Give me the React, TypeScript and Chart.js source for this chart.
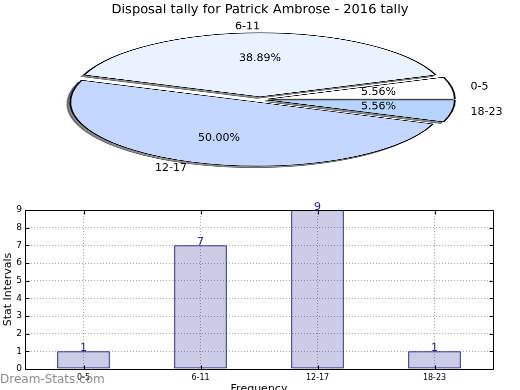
import { useEffect, useRef } from "react";
import { Chart, registerables } from "chart.js";

Chart.register(...registerables);

// ---------- data ----------
const categories = ["0-5", "6-11", "12-17", "18-23"];
const counts = [1, 7, 9, 1];
const pieColors = ["#ffffff", "#eaf2ff", "#c4d8ff", "#b5d5ff"];
const yMax = 9;
const titleText = "Disposal tally for Patrick Ambrose - 2016 tally";
const yAxisTitle = "Stat Intervals";
const xAxisTitle = "Frequency";
const watermarkText = "Dream-Stats.com";

// ---------- style / layout constants ----------
const FONT = "'DejaVu Sans', sans-serif";
const W = 520;
const PIE_H = 582; // unscaled canvas height
const K = 0.342; // vertical squish of the pie (ellipse look)
const PIE_R = 187;
const EXPLODE = 8;

// Chart.js draws clockwise; matplotlib counter-clockwise from east -> reverse
const pieLabels = [...categories].reverse();
const pieValues = [...counts].reverse();
const pieFill = [...pieColors].reverse();

export default function App() {
  const pieRef = useRef<HTMLCanvasElement>(null);
  const barRef = useRef<HTMLCanvasElement>(null);

  useEffect(() => {
    const midOf = (a: any) => (a.startAngle + a.endAngle) / 2;

    const piePlugin = {
      id: "pieCustom",
      beforeDatasetsDraw(chart: any) {
        const ctx = chart.ctx as CanvasRenderingContext2D;
        const meta = chart.getDatasetMeta(0);
        // shadow pass (only shadows are visible)
        ctx.save();
        ctx.translate(-10000, 0);
        ctx.shadowColor = "rgba(0,0,0,0.45)";
        ctx.shadowOffsetX = 10000 - 3;
        ctx.shadowOffsetY = 5;
        ctx.shadowBlur = 0;
        meta.data.forEach((arc: any) => {
          const m = midOf(arc);
          ctx.save();
          ctx.translate(Math.cos(m) * EXPLODE, Math.sin(m) * EXPLODE);
          arc.draw(ctx);
          ctx.restore();
        });
        ctx.restore();
        // real wedges, exploded
        meta.data.forEach((arc: any) => {
          const m = midOf(arc);
          ctx.save();
          ctx.translate(Math.cos(m) * EXPLODE, Math.sin(m) * EXPLODE);
          arc.draw(ctx);
          ctx.restore();
        });
        return false;
      },
      afterDraw(chart: any) {
        const ctx = chart.ctx as CanvasRenderingContext2D;
        const meta = chart.getDatasetMeta(0);
        const data = chart.data.datasets[0].data as number[];
        const total = data.reduce((s, v) => s + v, 0);
        ctx.save();
        ctx.scale(1, 1 / K);
        ctx.fillStyle = "#000";
        // title
        ctx.font = `13px ${FONT}`;
        ctx.textAlign = "center";
        ctx.textBaseline = "middle";
        ctx.fillText(titleText, W / 2, 10);
        ctx.font = `11px ${FONT}`;
        meta.data.forEach((arc: any, i: number) => {
          const m = midOf(arc);
          const R = arc.outerRadius;
          const c = Math.cos(m);
          const s = Math.sin(m);
          // percentage
          const rp = 0.6 * R + EXPLODE;
          ctx.textAlign = "center";
          ctx.fillText(
            ((data[i] / total) * 100).toFixed(2) + "%",
            arc.x + c * rp,
            (arc.y + s * rp) * K
          );
          // label
          const rl = 1.1 * R + EXPLODE;
          ctx.textAlign = c > 1e-6 ? "left" : "right";
          ctx.fillText(
            chart.data.labels[i],
            arc.x + c * rl,
            (arc.y + s * rl) * K
          );
        });
        ctx.restore();
      },
    };

    const pie = new Chart(pieRef.current!, {
      type: "pie",
      data: {
        labels: pieLabels,
        datasets: [
          {
            data: pieValues,
            backgroundColor: pieFill,
            borderColor: "#000",
            borderWidth: 1.8,
          },
        ],
      },
      options: {
        animation: false,
        responsive: false,
        events: [],
        rotation: 90,
        radius: PIE_R,
        layout: { padding: 0 },
        plugins: { legend: { display: false }, tooltip: { enabled: false } },
      } as any,
      plugins: [piePlugin as any],
    });

    const barPlugin = {
      id: "barCustom",
      afterDatasetsDraw(chart: any) {
        const ctx = chart.ctx as CanvasRenderingContext2D;
        const { left, right, top, bottom } = chart.chartArea;
        const L = Math.round(left) + 0.5;
        const R = Math.round(right) + 0.5;
        const T = Math.round(top) + 0.5;
        const B = Math.round(bottom) + 0.5;
        ctx.save();
        ctx.strokeStyle = "#000";
        ctx.lineWidth = 1;
        ctx.beginPath();
        ctx.rect(L, T, R - L, B - T);
        // inward tick marks
        const ys = chart.scales.y;
        ys.ticks.forEach((_t: any, i: number) => {
          const y = Math.round(ys.getPixelForTick(i)) + 0.5;
          ctx.moveTo(L, y);
          ctx.lineTo(L + 4, y);
          ctx.moveTo(R, y);
          ctx.lineTo(R - 4, y);
        });
        const xs = chart.scales.x;
        xs.ticks.forEach((_t: any, i: number) => {
          const x = Math.round(xs.getPixelForTick(i)) + 0.5;
          ctx.moveTo(x, B);
          ctx.lineTo(x, B - 4);
          ctx.moveTo(x, T);
          ctx.lineTo(x, T + 4);
        });
        ctx.stroke();
        ctx.restore();
      },
      afterDraw(chart: any) {
        const ctx = chart.ctx as CanvasRenderingContext2D;
        const meta = chart.getDatasetMeta(0);
        const data = chart.data.datasets[0].data as number[];
        ctx.save();
        ctx.font = `11px ${FONT}`;
        ctx.fillStyle = "#1c1ca0";
        ctx.textAlign = "center";
        ctx.textBaseline = "alphabetic";
        meta.data.forEach((bar: any, i: number) => {
          ctx.fillText(String(data[i]), bar.x, bar.y);
        });
        // watermark
        ctx.font = `12px ${FONT}`;
        ctx.fillStyle = "rgba(120,120,120,0.85)";
        ctx.textAlign = "left";
        ctx.textBaseline = "middle";
        ctx.fillText(watermarkText, 0, 380);
        ctx.restore();
      },
    };

    const grid = { color: "#aaaaaa", lineWidth: 1, drawTicks: false };
    const border = { display: false, dash: [1, 2] };

    const bar = new Chart(barRef.current!, {
      type: "bar",
      data: {
        labels: categories,
        datasets: [
          {
            data: counts,
            backgroundColor: "rgba(0,0,128,0.2)",
            borderColor: "#000080",
            borderWidth: 1,
            borderSkipped: false,
            barPercentage: 0.45,
            categoryPercentage: 1,
          },
        ],
      },
      options: {
        animation: false,
        responsive: false,
        events: [],
        layout: { padding: { top: 210, left: 0, right: 27, bottom: 4 } },
        plugins: { legend: { display: false }, tooltip: { enabled: false } },
        scales: {
          x: {
            offset: true,
            grid: { ...grid, offset: false },
            border,
            ticks: { font: { family: FONT, size: 8 }, color: "#000", padding: 4 },
            title: {
              display: true,
              text: xAxisTitle,
              font: { family: FONT, size: 11 },
              color: "#000",
              padding: 0,
            },
            afterFit: (s: any) => {
              s.height = 27;
            },
          },
          y: {
            min: 0,
            max: yMax,
            grid,
            border,
            ticks: {
              stepSize: 1,
              font: { family: FONT, size: 9 },
              color: "#000",
              padding: 3,
            },
            title: {
              display: true,
              text: yAxisTitle,
              font: { family: FONT, size: 11 },
              color: "#000",
              padding: { top: 2, bottom: 0 },
            },
            afterFit: (s: any) => {
              s.width = 25;
            },
          },
        },
      } as any,
      plugins: [barPlugin as any],
    });

    return () => {
      pie.destroy();
      bar.destroy();
    };
  }, []);

  return (
    <div
      style={{
        position: "fixed",
        left: 0,
        top: 0,
        width: W,
        height: 390,
        overflow: "hidden",
        background: "#fff",
      }}
    >
      <canvas
        ref={barRef}
        width={W}
        height={400}
        style={{ position: "absolute", left: 0, top: 0, width: W, height: 400 }}
      />
      <canvas
        ref={pieRef}
        width={W}
        height={PIE_H}
        style={{
          position: "absolute",
          left: 0,
          top: 0,
          width: W,
          height: PIE_H,
          transform: `scaleY(${K})`,
          transformOrigin: "0 0",
        }}
      />
    </div>
  );
}
